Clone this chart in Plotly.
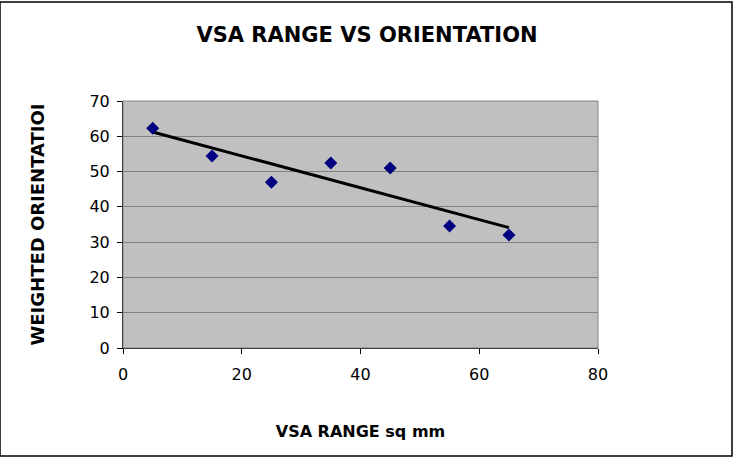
import numpy as np
import plotly.graph_objects as go

vsa_range = [5, 15, 25, 35, 45, 55, 65]
orientation = [62.3, 54.4, 47.0, 52.4, 51.0, 34.6, 32.0]
x_ticks = [0, 20, 40, 60, 80]
y_ticks = [0, 10, 20, 30, 40, 50, 60, 70]

slope, intercept = np.polyfit(vsa_range, orientation, 1)
trend_x = [min(vsa_range), max(vsa_range)]
trend_y = [slope * v + intercept for v in trend_x]

TITLE_FONT = "DejaVu Sans, sans-serif"
TICK_FONT = "DejaVu Sans, sans-serif"

fig = go.Figure()
fig.add_trace(go.Scatter(x=trend_x, y=trend_y, mode="lines",
                         line=dict(color="black", width=3), showlegend=False,
                         hoverinfo="skip"))
fig.add_trace(go.Scatter(x=vsa_range, y=orientation, mode="markers",
                         marker=dict(symbol="diamond", size=10, color="#000080"),
                         showlegend=False))

fig.update_layout(
    width=734, height=458,
    margin=dict(l=123, r=136, t=101, b=110),
    paper_bgcolor="white",
    plot_bgcolor="#C0C0C0",
    font=dict(family=TICK_FONT, size=16, color="black"),
    title=dict(text="<b>VSA RANGE VS ORIENTATION</b>", x=0.5, xanchor="center",
               y=0.925, yanchor="middle",
               font=dict(family=TITLE_FONT, size=21, color="black")),
    xaxis=dict(range=[0, 80], tickvals=x_ticks, showgrid=False, zeroline=False,
               showline=True, linecolor="black", linewidth=1,
               ticks="outside", ticklen=5, tickcolor="black",
               ticklabelstandoff=7,
               tickfont=dict(family=TICK_FONT, size=16),
               title=dict(text="<b>VSA RANGE sq mm</b>", standoff=42,
                          font=dict(family=TITLE_FONT, size=16)),
               mirror=False),
    yaxis=dict(range=[0, 70], tickvals=y_ticks, showgrid=True, gridcolor="#808080",
               gridwidth=1, zeroline=False,
               showline=True, linecolor="black", linewidth=1,
               ticks="outside", ticklen=5, tickcolor="black",
               ticklabelstandoff=4,
               tickfont=dict(family=TICK_FONT, size=16),
               title=dict(text="<b>WEIGHTED ORIENTATIOI</b>", standoff=40,
                          font=dict(family=TITLE_FONT, size=18))),
    shapes=[
        dict(type="rect", xref="paper", yref="paper", x0=0, x1=1, y0=0, y1=1,
             line=dict(color="#808080", width=1), layer="above"),
        dict(type="rect", xref="paper", yref="paper", x0=-123/475, x1=1 + 134/475,
             y0=-108/247, y1=1 + 99/247,
             line=dict(color="black", width=1.5), layer="above"),
    ],
)

fig.write_html("out.html")
